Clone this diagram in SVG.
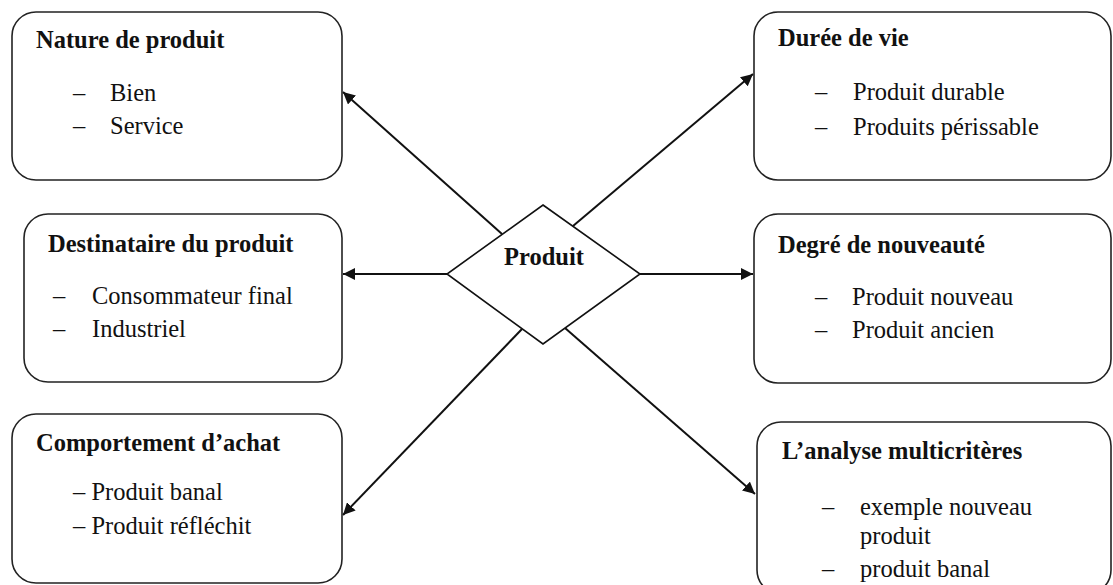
<svg xmlns="http://www.w3.org/2000/svg" width="1113" height="585" viewBox="0 0 1113 585">
  <style>
    .box { fill: #ffffff; stroke: #222222; stroke-width: 1.6; }
    .title { font-family: "Liberation Serif", "Times New Roman", serif; font-weight: bold; font-size: 24.5px; fill: #111111; }
    .item { font-family: "Liberation Serif", "Times New Roman", serif; font-size: 24.5px; fill: #111111; }
    .conn { stroke: #111111; stroke-width: 2; fill: none; marker-end: url(#arrow); }
  </style>
  <defs>
    <marker id="arrow" viewBox="0 0 10 10" refX="10" refY="5" markerWidth="6" markerHeight="6" orient="auto" markerUnits="strokeWidth">
      <path d="M0,0 L10,5 L0,10 Z" fill="#111111"/>
    </marker>
  </defs>
  <rect width="1113" height="585" fill="#ffffff"/>

  <g id="connectors">
    <line class="conn" x1="447" y1="274" x2="343" y2="274"/>
    <line class="conn" x1="640" y1="274" x2="753" y2="274"/>
    <line class="conn" x1="502" y1="234" x2="343" y2="92"/>
    <line class="conn" x1="573" y1="226" x2="753" y2="74"/>
    <line class="conn" x1="522" y1="329" x2="343" y2="515"/>
    <line class="conn" x1="565" y1="328" x2="755" y2="494"/>
  </g>

  <g id="node-produit">
    <polygon points="543,205 640,274 543,344 447,274" fill="#ffffff" stroke="#111111" stroke-width="1.6"/>
    <text class="title" x="544" y="265" text-anchor="middle">Produit</text>
  </g>

  <g id="node-nature">
    <rect class="box" x="12" y="12" width="330" height="168" rx="24"/>
    <text class="title" x="36" y="48">Nature de produit</text>
    <text class="item" x="73" y="101">–</text>
    <text class="item" x="110" y="101">Bien</text>
    <text class="item" x="73" y="134">–</text>
    <text class="item" x="110" y="134">Service</text>
  </g>

  <g id="node-destinataire">
    <rect class="box" x="24" y="214" width="318" height="168" rx="24"/>
    <text class="title" x="48" y="252">Destinataire du produit</text>
    <text class="item" x="53" y="304">–</text>
    <text class="item" x="92" y="304">Consommateur final</text>
    <text class="item" x="53" y="337">–</text>
    <text class="item" x="92" y="337">Industriel</text>
  </g>

  <g id="node-comportement">
    <rect class="box" x="12" y="414" width="330" height="169" rx="24"/>
    <text class="title" x="36" y="451">Comportement d’achat</text>
    <text class="item" x="73" y="500">– Produit banal</text>
    <text class="item" x="73" y="534">– Produit réfléchit</text>
  </g>

  <g id="node-duree">
    <rect class="box" x="754" y="12" width="357" height="168" rx="24"/>
    <text class="title" x="778" y="46">Durée de vie</text>
    <text class="item" x="815" y="100">–</text>
    <text class="item" x="853" y="100">Produit durable</text>
    <text class="item" x="815" y="135">–</text>
    <text class="item" x="853" y="135">Produits périssable</text>
  </g>

  <g id="node-degre">
    <rect class="box" x="754" y="214" width="357" height="169" rx="24"/>
    <text class="title" x="778" y="253">Degré de nouveauté</text>
    <text class="item" x="815" y="305">–</text>
    <text class="item" x="852" y="305">Produit nouveau</text>
    <text class="item" x="815" y="338">–</text>
    <text class="item" x="852" y="338">Produit ancien</text>
  </g>

  <g id="node-analyse">
    <rect class="box" x="757" y="422" width="354" height="172" rx="24"/>
    <text class="title" x="782" y="459">L’analyse multicritères</text>
    <text class="item" x="822" y="515">–</text>
    <text class="item" x="860" y="515">exemple nouveau</text>
    <text class="item" x="860" y="544">produit</text>
    <text class="item" x="822" y="577">–</text>
    <text class="item" x="860" y="577">produit banal</text>
  </g>
</svg>
